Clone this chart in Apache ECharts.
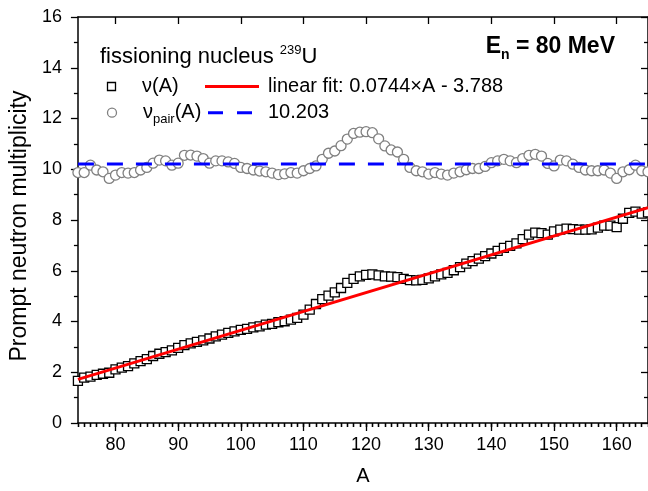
<!DOCTYPE html>
<html>
<head>
<meta charset="utf-8">
<script src="https://cdn.jsdelivr.net/npm/echarts@6/dist/echarts.min.js"></script>
<style>
  html, body { margin: 0; padding: 0; background: #fff; }
  #chart { width: 648px; height: 491px; }
</style>
</head>
<body>
<div id="chart"></div>
<script>
// Fragment mass numbers A
const massNumbers = [
  74, 75, 76, 77, 78, 79, 80, 81, 82, 83, 84, 85, 86, 87, 88, 89, 90, 91, 92, 93,
  94, 95, 96, 97, 98, 99, 100, 101, 102, 103, 104, 105, 106, 107, 108, 109, 110, 111, 112, 113,
  114, 115, 116, 117, 118, 119, 120, 121, 122, 123, 124, 125, 126, 127, 128, 129, 130, 131, 132, 133,
  134, 135, 136, 137, 138, 139, 140, 141, 142, 143, 144, 145, 146, 147, 148, 149, 150, 151, 152, 153,
  154, 155, 156, 157, 158, 159, 160, 161, 162, 163, 164, 165
];

// Prompt neutron multiplicity per fragment, nu(A)
const nuA = [
  1.66, 1.79, 1.83, 1.90, 1.94, 1.98, 2.11, 2.18, 2.24, 2.35, 2.44, 2.52, 2.64, 2.73, 2.79, 2.86, 2.96, 3.07, 3.14, 3.20,
  3.26, 3.33, 3.41, 3.48, 3.55, 3.61, 3.67, 3.71, 3.77, 3.81, 3.88, 3.91, 3.97, 4.01, 4.07, 4.14, 4.27, 4.47, 4.69, 4.88,
  5.02, 5.15, 5.32, 5.52, 5.68, 5.78, 5.84, 5.86, 5.82, 5.78, 5.77, 5.75, 5.68, 5.63, 5.62, 5.64, 5.70, 5.78, 5.86, 5.92,
  6.02, 6.14, 6.28, 6.38, 6.48, 6.58, 6.68, 6.78, 6.90, 6.98, 7.08, 7.25, 7.42, 7.50, 7.48, 7.42, 7.55, 7.62, 7.66, 7.64,
  7.62, 7.62, 7.63, 7.70, 7.78, 7.78, 7.72, 8.05, 8.28, 8.33, 8.25, 8.30
];

// Multiplicity of the complementary fragment pair, nu_pair(A)
const nuPair = [
  9.87, 9.87, 10.16, 9.97, 9.90, 9.64, 9.77, 9.87, 9.85, 9.87, 9.97, 10.07, 10.24, 10.36, 10.33, 10.16, 10.24, 10.55, 10.56, 10.52,
  10.42, 10.24, 10.33, 10.33, 10.29, 10.23, 10.07, 10.03, 9.97, 9.93, 9.90, 9.85, 9.79, 9.82, 9.87, 9.85, 9.94, 10.03, 10.13, 10.39,
  10.63, 10.72, 10.93, 11.19, 11.41, 11.46, 11.48, 11.44, 11.20, 10.92, 10.76, 10.68, 10.39, 10.07, 9.94, 9.90, 9.81, 9.87, 9.81, 9.77,
  9.85, 9.90, 9.98, 10.03, 10.03, 10.11, 10.26, 10.33, 10.39, 10.33, 10.26, 10.42, 10.55, 10.59, 10.52, 10.23, 10.13, 10.36, 10.33, 10.20,
  10.07, 9.97, 9.94, 9.94, 9.97, 9.85, 9.64, 9.90, 9.98, 10.16, 9.94, 9.90
];

// Linear fit of nu(A) and mean of nu_pair(A)
const fitSlope = 0.0744;
const fitIntercept = -3.788;
const nuPairMean = 10.203;

// Axis ranges and labelled ticks
const xMin = 74, xMax = 165;
const xMajorTicks = [80, 90, 100, 110, 120, 130, 140, 150, 160];
const yMin = 0, yMax = 16, yStep = 2;

const FONT = '"Liberation Sans", Arial, Helvetica, sans-serif';
const BLACK = '#000';

const toPairs = ys => massNumbers.map((a, i) => [a, ys[i]]);
const fitData = [xMin, xMax].map(a => [a, fitSlope * a + fitIntercept]);
const meanData = [xMin, xMax].map(a => [a, nuPairMean]);

const axisLineStyle = { show: true, onZero: false, lineStyle: { color: BLACK, width: 1.5 } };
const tickLine = { color: BLACK, width: 1.3 };

function xAxisBase(position) {
  return {
    type: 'value', position: position, min: xMin, max: xMax,
    splitLine: { show: false }, axisLine: { show: false },
    axisLabel: { show: false }, axisTick: { show: false }
  };
}

const xAxes = [
  Object.assign(xAxisBase('bottom'), {
    axisLine: axisLineStyle,
    axisTick: { show: true, customValues: xMajorTicks, length: 8, lineStyle: tickLine },
    axisLabel: { show: true, customValues: xMajorTicks, fontSize: 18, fontFamily: FONT, color: BLACK, margin: 13 },
    name: 'A', nameLocation: 'middle', nameGap: 43,
    nameTextStyle: { fontSize: 20, fontFamily: FONT, color: BLACK }
  }),
  Object.assign(xAxisBase('bottom'), {
    interval: 1,
    axisTick: { show: true, length: 4, lineStyle: tickLine }
  }),
  Object.assign(xAxisBase('top'), {
    axisLine: axisLineStyle,
    axisTick: { show: true, inside: true, customValues: xMajorTicks, length: 7, lineStyle: tickLine }
  }),
  Object.assign(xAxisBase('top'), {
    interval: 1,
    axisTick: { show: true, inside: true, length: 4, lineStyle: tickLine }
  })
];

const yAxes = [
  {
    type: 'value', position: 'left', min: yMin, max: yMax, interval: yStep,
    axisLine: axisLineStyle,
    axisTick: { show: true, length: 7, lineStyle: tickLine },
    minorTick: { show: true, splitNumber: 2, length: 4, lineStyle: tickLine },
    axisLabel: { fontSize: 18, fontFamily: FONT, color: BLACK, margin: 16 },
    splitLine: { show: false },
    name: 'Prompt neutron multiplicity', nameLocation: 'middle', nameGap: 44,
    nameTextStyle: { fontSize: 23, fontFamily: FONT, color: BLACK, padding: [0, 12, 0, 0] }
  },
  {
    type: 'value', position: 'right', min: yMin, max: yMax, interval: yStep,
    axisLine: axisLineStyle,
    axisTick: { show: true, inside: true, length: 7, lineStyle: tickLine },
    minorTick: { show: true, splitNumber: 2, length: 4, lineStyle: tickLine },
    axisLabel: { show: false },
    splitLine: { show: false }
  }
];

// Legend block and energy label
const legendX = 100;
const row1 = 86.5, row2 = 112.7;
const iconX = 111.5, lineX0 = 205, lineX1 = 259, textX1 = 142, textX2 = 268;
const fitLabel = 'linear fit: ' + fitSlope + '\u00D7A - ' + Math.abs(fitIntercept);

const graphics = [
  {
    type: 'text', silent: true, x: legendX, y: 57.2,
    style: {
      text: '{m|fissioning nucleus }{s|239}{m|U}',
      textVerticalAlign: 'middle',
      rich: {
        m: { fontSize: 22, fontFamily: FONT, fill: BLACK, lineHeight: 26, verticalAlign: 'middle' },
        s: { fontSize: 13, fontFamily: FONT, fill: BLACK, lineHeight: 12, verticalAlign: 'top' }
      }
    }
  },
  {
    type: 'rect', silent: true,
    shape: { x: iconX - 4, y: row1 - 4, width: 8, height: 8 },
    style: { fill: '#fff', stroke: BLACK, lineWidth: 1.3 }
  },
  {
    type: 'text', silent: true, x: textX1, y: row1,
    style: { text: '\u03BD(A)', fontSize: 20, fontFamily: FONT, fill: BLACK, textVerticalAlign: 'middle' }
  },
  {
    type: 'line', silent: true,
    shape: { x1: lineX0, y1: row1, x2: lineX1, y2: row1 },
    style: { stroke: '#ff0000', lineWidth: 3 }
  },
  {
    type: 'text', silent: true, x: textX2, y: row1,
    style: { text: fitLabel, fontSize: 20, fontFamily: FONT, fill: BLACK, textVerticalAlign: 'middle' }
  },
  {
    type: 'circle', silent: true,
    shape: { cx: iconX + 0.5, cy: row2, r: 4.5 },
    style: { fill: '#fff', stroke: '#808080', lineWidth: 1.3 }
  },
  {
    type: 'text', silent: true, x: textX1 + 1, y: row2,
    style: {
      text: '{m|\u03BD}{s|pair}{m|(A)}',
      textVerticalAlign: 'middle',
      rich: {
        m: { fontSize: 20, fontFamily: FONT, fill: BLACK, lineHeight: 26, verticalAlign: 'middle' },
        s: { fontSize: 13, fontFamily: FONT, fill: BLACK, lineHeight: 10, verticalAlign: 'bottom' }
      }
    }
  },
  {
    type: 'line', silent: true,
    shape: { x1: lineX0 + 3, y1: row2, x2: lineX1 - 5, y2: row2 },
    style: { stroke: '#0000ff', lineWidth: 3, lineDash: [15, 14] }
  },
  {
    type: 'text', silent: true, x: textX2, y: row2,
    style: { text: String(nuPairMean), fontSize: 20, fontFamily: FONT, fill: BLACK, textVerticalAlign: 'middle' }
  },
  {
    type: 'text', silent: true, x: 615, y: 46.7,
    style: {
      text: '{b|E}{n|n}{b| = 80 MeV}',
      textAlign: 'right', textVerticalAlign: 'middle',
      rich: {
        b: { fontSize: 23, fontWeight: 'bold', fontFamily: FONT, fill: BLACK, lineHeight: 30, verticalAlign: 'middle' },
        n: { fontSize: 14, fontWeight: 'bold', fontFamily: FONT, fill: BLACK, lineHeight: 11, verticalAlign: 'bottom' }
      }
    }
  }
];

const chart = echarts.init(document.getElementById('chart'), null, { renderer: 'canvas' });
chart.setOption({
  animation: false,
  backgroundColor: '#fff',
  grid: { left: 73, top: 17, width: 577, height: 409, containLabel: false },
  xAxis: xAxes,
  yAxis: yAxes,
  series: [
    {
      name: '\u03BD(A)', type: 'scatter', xAxisIndex: 0, yAxisIndex: 0,
      data: toPairs(nuA), symbol: 'rect', symbolSize: 9, z: 2,
      itemStyle: { color: '#fff', borderColor: BLACK, borderWidth: 1.3, opacity: 1 }
    },
    {
      name: '\u03BDpair(A)', type: 'scatter', xAxisIndex: 0, yAxisIndex: 0,
      data: toPairs(nuPair), symbol: 'circle', symbolSize: 10, z: 2,
      itemStyle: { color: '#fff', borderColor: '#808080', borderWidth: 1.3, opacity: 1 }
    },
    {
      name: 'linear fit', type: 'line', xAxisIndex: 0, yAxisIndex: 0,
      data: fitData, symbol: 'none', z: 4,
      lineStyle: { color: '#ff0000', width: 3 }
    },
    {
      name: 'mean', type: 'line', xAxisIndex: 0, yAxisIndex: 0,
      data: meanData, symbol: 'none', z: 4,
      lineStyle: { color: '#0000ff', width: 3, type: [16, 13] }
    }
  ],
  graphic: graphics
});
</script>
</body>
</html>
